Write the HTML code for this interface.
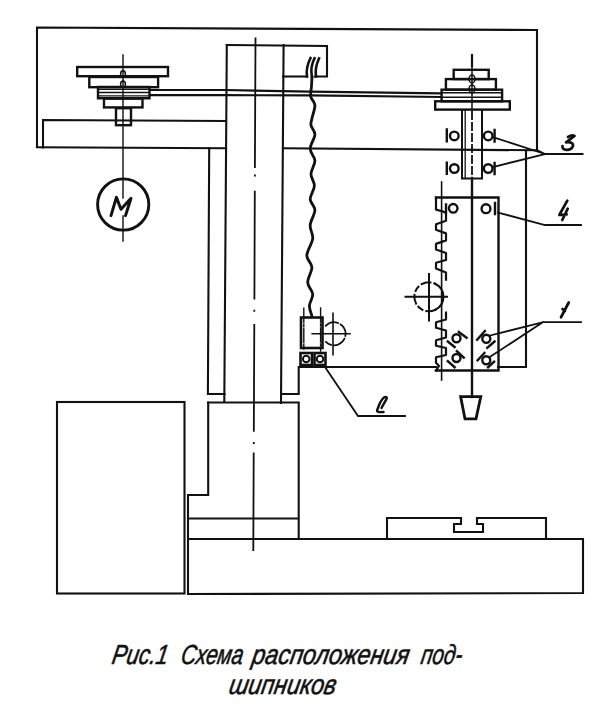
<!DOCTYPE html>
<html><head><meta charset="utf-8">
<style>
html,body{margin:0;padding:0;background:#fff;width:600px;height:714px;overflow:hidden}
svg{display:block}
</style></head><body>
<svg width="600" height="714" viewBox="0 0 600 714">
<g fill="none" stroke="#111" stroke-width="2.1" stroke-linecap="square" stroke-linejoin="miter">
<!-- top frame -->
<path d="M37,147 L37,27.5 L537,30 L537,150.5"/>
<path d="M37,147.3 L226,148.3"/>
<path d="M43,147.5 L43,120 L226,121"/>
<path d="M283,148.3 L537,150.3"/>
<!-- column -->
<path d="M226.8,45 L224.3,402"/>
<path d="M283.6,45 L281,403 M281.1,394 L298.7,394 L298.7,367 L436,367"/>
<path d="M498,367 L526,367 L526,152"/>
<path d="M226.8,45 L327,46 L327,76.5 L315,76.5"/>
<path d="M307,76.5 L283,76.5"/>
<path d="M209.2,148.3 L207.9,394 L224.5,394"/>
<!-- base -->
<path d="M208.2,402.5 L298.7,402.5 L298.7,539"/>
<path d="M208.2,402.5 L208.2,495 L188,495 L188,594 L583,593 L583,539 L188,539"/>
<path d="M188,518.5 L297,518.5"/>
<path d="M387,539 L387,518 L461,518 L461,524 L454,524 L454,532 L483,532 L483,524 L477,524 L477,518 L546,518 L546,539"/>
<rect x="57" y="402" width="127.5" height="191.5"/>
<!-- left pulley -->
<g stroke-width="2.4">
<rect x="77.2" y="67" width="90.8" height="9.2"/>
<rect x="89.3" y="77" width="68.8" height="10.2"/>
<path d="M98,87 L98,98.3 L149.5,98.3 L149.5,87 Z"/>
<rect x="104" y="98.6" width="38.5" height="8.8"/>
<rect x="116" y="108.2" width="15" height="17"/>
</g>
<path d="M98,89.3 L149,89.3 M98,92.5 L149,92.5 M98,95.8 L149,95.8" stroke-width="1.3"/>
<!-- belt -->
<path d="M150,90 L225,90 L310,91.6 L440,93.3" stroke-width="2.2"/>
<path d="M150,95.2 L225,95.2 L310,95.4 L440,97" stroke-width="2.2"/>
<!-- right pulley -->
<g stroke-width="2.4">
<rect x="453.7" y="69.8" width="35" height="9.3"/>
<rect x="445.9" y="79.1" width="50" height="10.6"/>
<rect x="441.6" y="89.7" width="60.5" height="11.6"/>
<rect x="435.2" y="101.3" width="74.6" height="8.3"/>
</g>
<path d="M441.6,92.8 L502,92.8 M441.6,97.3 L502,97.3" stroke-width="1.6"/>
<!-- shaft right -->
<path d="M462,110 L462,178.5 L482,178.5 L482,110" stroke-width="2"/>
<path d="M465.2,110 L465.2,178" stroke-width="1.3"/>
<path d="M472,55 L472,66" stroke-width="2.2"/>
<path d="M472,112 L472,178" stroke-width="1.8" stroke-dasharray="7,4"/>
<path d="M472,178 L472,397" stroke-width="2.4"/>
<!-- left pulley centerline + motor -->
<path d="M123,55 L123,198 M123,216 L123,241" stroke-width="1.4"/>
<circle cx="123.2" cy="204.5" r="25.6" stroke-width="2.9"/>
<!-- column centerline -->
<path d="M255.5,37.6 L254.9,168.0 M254.9,174.6 L254.9,176.6 M254.8,190.7 L254.4,299.5 M254.3,309.8 L254.3,311.8 M254.3,324.0 L253.8,431.8 M253.8,442.0 L253.8,444.0 M253.7,452.6 L253.3,551.0" stroke-width="1.8" stroke-linecap="butt"/>
<!-- chain box curves -->
<path d="M307,76.5 C306,70 307.5,64 310.5,58" stroke-width="2.6"/>
<path d="M314.5,58.3 C311.5,64 310.5,70 312,77" stroke-width="2.6"/>
<path d="M319,58.5 C316.5,64 315,70 316,76.5" stroke-width="2.6"/>
<!-- chain -->
<path d="M312.0,76.5 C311.9,78.1 311.7,82.6 311.5,86.0 C311.3,89.4 310.2,93.5 310.8,96.7 C311.4,99.9 314.7,101.4 314.9,105.1 C315.1,108.8 312.5,115.2 311.9,118.6 C311.2,122.0 310.5,122.6 311.0,125.3 C311.5,128.0 315.0,130.6 314.9,134.5 C314.8,138.4 310.2,144.5 310.2,148.8 C310.2,153.2 314.8,156.4 314.9,160.6 C315.0,164.8 311.1,169.8 311.0,174.0 C310.9,178.2 314.5,181.6 314.4,185.8 C314.3,190.0 310.1,195.2 310.2,199.2 C310.3,203.2 314.9,205.7 314.9,210.0 C314.9,214.3 310.6,220.4 310.2,225.2 C309.8,230.0 313.3,233.6 312.7,238.7 C312.1,243.8 306.9,250.8 306.8,255.5 C306.7,260.2 311.8,262.7 311.9,267.2 C312.0,271.7 307.6,277.9 307.7,282.4 C307.8,286.9 312.4,290.2 312.7,294.1 C313.0,298.0 309.5,302.2 309.4,305.9 C309.3,309.5 311.5,314.3 311.9,316.0" stroke-width="2.8" stroke-linecap="round" stroke-linejoin="round"/>
<!-- carriage -->
<rect x="301" y="317.5" width="21.5" height="30.5" stroke-width="2.6"/>
<path d="M303.8,308.2 L303.8,349" stroke-width="1.4" stroke-dasharray="14,2,2,2"/>
<path d="M320.6,308 L320.6,351" stroke-width="1.4" stroke-dasharray="14,2,2,2"/>
<path d="M325.9,325.7 A11.5,11.5 0 1 1 325.9,341.9" stroke-width="1.8" stroke-dasharray="13,3"/>
<path d="M312.2,333.8 L350,333.8 M333,313.4 L333,354.8" stroke-width="1.6"/>
<rect x="300.5" y="353" width="11.5" height="12" stroke-width="2.6"/>
<rect x="314.5" y="353" width="11" height="12" stroke-width="2.6"/>
<circle cx="306.2" cy="359" r="3.3" stroke-width="2"/>
<circle cx="320" cy="359" r="3.3" stroke-width="2"/>
<!-- rack housing -->
<path d="M436,197.5 L498.5,197.5 L498.5,370.5 L436,370.5" stroke-width="2.4"/>
<path d="M436,197.5 L436,209.6 L443,211.5 L446,213 L446.0,213.8 L446.0,220.8 L436.0,224.2 L436.0,229.8 L446.0,233.4 L446.0,240.4 L436.0,243.9 L436.0,249.5 L446.0,253.0 L446.0,260.0 L436.0,262.8 L436.0,268.4 L446.0,272.6 L446.0,279.6 M446.0,312.5 L446.0,319.5 L436.0,322.2 L436.0,327.8 L446.0,330.5 L446.0,337.5 L436.0,340.2 L436.0,345.8 L446.0,348.0 L446.0,355.0 L436.0,357.2 L436.0,362.8 L439,366 L436,370.5" stroke-width="2.2" stroke-linejoin="round"/>
<path d="M441.6,182 L441.6,380" stroke-width="1.6"/>
<!-- gear -->
<path d="M435.1,283.7 A14.5,14.5 0 0 1 435.1,309.9" stroke-width="2.2"/><path d="M435.1,309.9 A14.5,14.5 0 1 1 435.1,283.7" stroke-width="2" stroke-dasharray="9,4,5,4"/>
<path d="M405.5,296.8 L447,296.8 M429,274 L429,320.5" stroke-width="2"/>
<!-- tool -->
<path d="M460.6,396.6 L480.8,396.6 L476,418.8 L465,418.8 Z" stroke-width="2.8"/>
<!-- bearings 3 -->
<g stroke-width="2.4">
<path d="M446.8,129.5 L446.8,141.2 M446.8,162.8 L446.8,173.8 M494.6,130 L494.6,141.5 M494.6,163 L494.6,174"/>
<circle cx="454.3" cy="135.9" r="4.3"/><circle cx="454.3" cy="168.5" r="4.3"/>
<circle cx="488.2" cy="135.9" r="4.3"/><circle cx="488.2" cy="168.5" r="4.3"/>
<!-- bearings 4 -->
<path d="M446,204.5 L446,212 M495,203 L495,214"/>
<circle cx="453.2" cy="208.3" r="4.3"/><circle cx="486" cy="208.7" r="4.4"/>
<!-- bearings 1 -->
<circle cx="456.5" cy="338.3" r="4"/><circle cx="456.5" cy="358" r="4"/>
<circle cx="486.3" cy="338.8" r="4"/><circle cx="486.3" cy="360.3" r="4"/>
<path d="M458.8,331.9 L466.6,337.8 M447.8,341.5 L454.6,347 M456.9,351.1 L463.8,357.6 M447.8,361.2 L454.6,367.2"/>
<path d="M477.1,339.7 L484.9,331 M487.2,347.9 L494.5,341.5 M477.6,360.3 L484.4,353 M488.1,367.2 L494.1,361.7"/>
</g>
<!-- frame line right / leaders -->
<path d="M537,150 L545,154 L582.6,154 M493.7,137.4 L545,154 M493.7,166.8 L545,154" stroke-width="1.8"/>
<path d="M498,212.6 L545,225 L581,225" stroke-width="1.8"/>
<path d="M490,335.5 L543.2,322.1 L581,322.1 M489,357.5 L543.2,322.1" stroke-width="1.8"/>
<path d="M325,367 L358,416 L405,416" stroke-width="1.8"/>
<!-- pulley center marks -->
<g stroke-width="1.5">
<ellipse cx="123" cy="74" rx="2.4" ry="3.3"/><ellipse cx="123" cy="84.3" rx="2.4" ry="3.3"/>
<ellipse cx="472" cy="79" rx="3" ry="4"/><ellipse cx="472" cy="89" rx="3" ry="4"/>
<path d="M472,66 L472,110"/>
</g>
<!-- motor M -->
<path d="M111,215.6 L116.4,197.4 L121,209.3 L131,198.3 L125.5,215.6" stroke-width="3" stroke-linejoin="round" stroke-linecap="round"/>
</g>
<g fill="none" stroke="#111" stroke-width="2.7" stroke-linecap="round" stroke-linejoin="round">
<path d="M568,137 Q572,134.5 574.5,136 L566,142.3 Q573.5,141.5 573,146 Q571.5,150 566.5,149.8 Q562,149.5 562.5,146"/>
<path d="M567.3,200.7 L559.3,215 L566.7,214.3 M567.7,208.7 L562.3,220"/>
<path d="M568.75,302.5 L561,317.25 M562.5,309 L565,311"/>
<path d="M381.5,408 C383,405 385.5,401 386.5,399 C387.5,397 385.5,396.5 384,397.5 C382.5,398.5 381,401 379.5,404 L377,410.5 C376.8,412 378,412.3 383.5,412" stroke-width="2.4"/>
</g>
<g fill="#111" font-family="Liberation Sans, sans-serif" font-style="italic">
<g font-size="23" stroke="#111" stroke-width="0.5">
<text transform="translate(111,663.5) scale(1,1.2) skewX(-12)" textLength="56" lengthAdjust="spacingAndGlyphs">Рис.1</text>
<text transform="translate(180,663.5) scale(1,1.2) skewX(-12)" textLength="62" lengthAdjust="spacingAndGlyphs">Схема</text>
<text transform="translate(251,663.5) scale(1,1.2) skewX(-12)" textLength="157" lengthAdjust="spacingAndGlyphs">расположения</text>
<text transform="translate(420,663.5) scale(1,1.2) skewX(-12)" textLength="41" lengthAdjust="spacingAndGlyphs">под-</text>
<text transform="translate(228,694) scale(1,1.2) skewX(-12)" textLength="107" lengthAdjust="spacingAndGlyphs">шипников</text>
</g>
</g>
</svg>
</body></html>
